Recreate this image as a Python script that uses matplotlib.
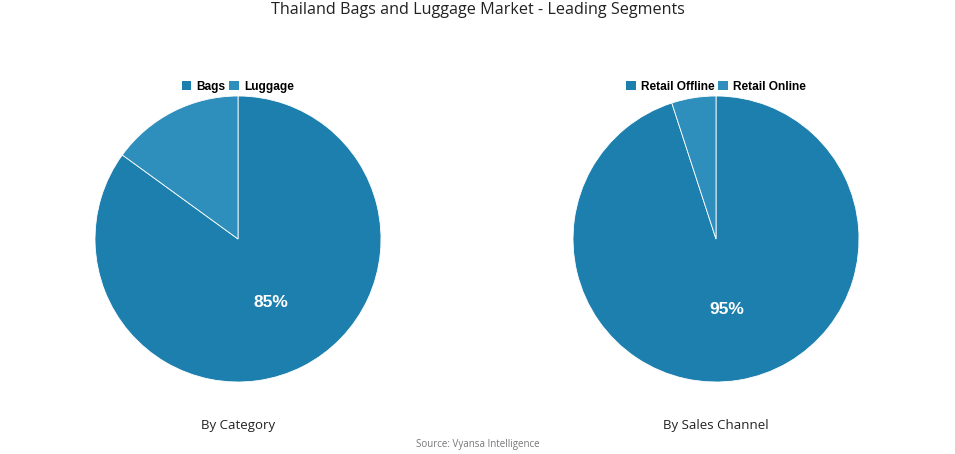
import matplotlib
matplotlib.use('Agg')
import matplotlib.pyplot as plt
from matplotlib.patches import Patch
import numpy as np

# data
cat_labels = ['Bags', 'Luggage']
cat_values = [85, 15]
chan_labels = ['Retail Offline', 'Retail Online']
chan_values = [95, 5]
subtitles = ['By Category', 'By Sales Channel']
colors = ['#1c7fae', '#2e8fbc']

fig = plt.figure(figsize=(9.55, 4.54), dpi=100)
fig.patch.set_facecolor('white')

fig.text(0.5, 1 - 10 / 454, 'Thailand Bags and Luggage Market - Leading Segments',
         ha='center', va='center', fontsize=11.6, family='Open Sans', color='#222222')

centers_x = [238, 716]
for i, (labels, values) in enumerate([(cat_labels, cat_values), (chan_labels, chan_values)]):
    cx = centers_x[i]
    ax = fig.add_axes([(cx - 143) / 955, (454 - 382) / 454, 286 / 955, 286 / 454])
    ax.pie(values, colors=colors, startangle=90, counterclock=False,
           wedgeprops=dict(edgecolor='white', linewidth=0.6), radius=1)
    # label only the leading slice
    ang = np.deg2rad(90 - 360 * values[0] / sum(values) / 2)
    ax.text(0.5 * np.cos(ang), 0.5 * np.sin(ang), f'{values[0]}%', ha='center', va='center',
            fontsize=12.5, fontweight='bold', color='white', family='Liberation Sans')
    ax.set_xlim(-1, 1)
    ax.set_ylim(-1, 1)
    ax.set_aspect('equal')
    ax.axis('off')

    handles = [Patch(facecolor=c, edgecolor='none') for c in colors]
    fig.legend(handles, labels, loc='center', bbox_to_anchor=(cx / 955, 1 - 87 / 454),
               ncol=2, frameon=False, handlelength=0.8, handleheight=0.8,
               handletextpad=0.45, columnspacing=0.3,
               prop=dict(family='Liberation Sans', weight='bold', size=8.6))

    fig.text(cx / 955, 1 - 425 / 454, subtitles[i], ha='center', va='center',
             fontsize=9.5, family='Open Sans', color='#222222')

fig.text(0.5, 1 - 445 / 454, 'Source: Vyansa Intelligence', ha='center', va='center',
         fontsize=7, family='Open Sans', color='#777777')

fig.savefig('out.png', dpi=100, facecolor='white')
